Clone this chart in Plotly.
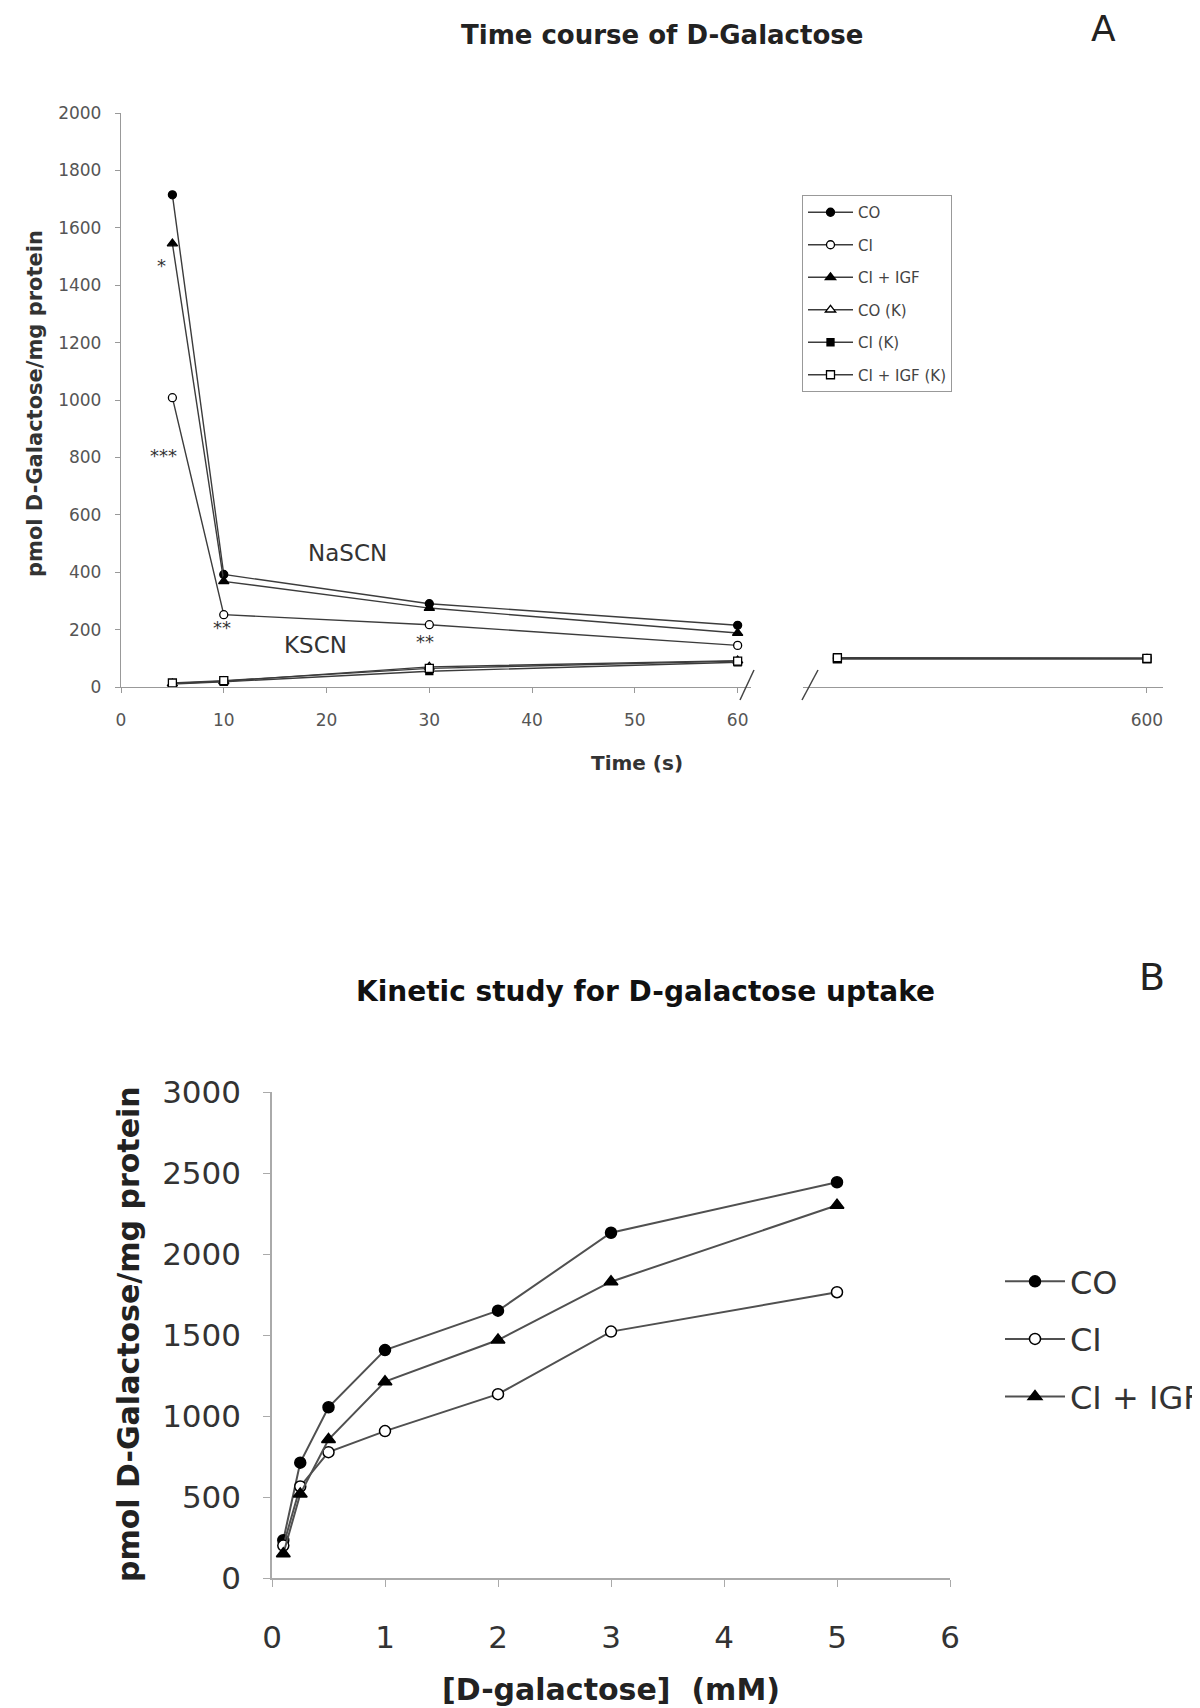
import plotly.graph_objects as go

# ---------------- data ----------------
# Panel A: time course (NaSCN and KSCN)
time_short = [5, 10, 30, 60]
co_na = [1715, 392, 290, 215]
ci_na = [1008, 252, 217, 145]
ciigf_na = [1545, 368, 275, 188]
co_k = [12, 20, 70, 92]
ci_k = [10, 18, 55, 86]
ciigf_k = [14, 22, 65, 90]
time_long = [60, 600]
co_k_long = [100, 100]
ci_k_long = [98, 98]
ciigf_k_long = [102, 100]
ticks_a_y = [0, 200, 400, 600, 800, 1000, 1200, 1400, 1600, 1800, 2000]
ticks_a_x = [0, 10, 20, 30, 40, 50, 60]

# Panel B: kinetic study
conc = [0.1, 0.25, 0.5, 1, 2, 3, 5]
co_b = [233, 712, 1054, 1407, 1650, 2131, 2443]
ci_b = [200, 565, 777, 907, 1135, 1521, 1764]
ciigf_b = [150, 518, 855, 1212, 1469, 1829, 2301]
ticks_b_y = [0, 500, 1000, 1500, 2000, 2500, 3000]
ticks_b_x = [0, 1, 2, 3, 4, 5, 6]

W, H = 1200, 1708
OFF = 8  # page body margin
FONT = "DejaVu Sans"


def px(x):
    return (x - OFF) / W


def py(y):
    return 1 - (y - OFF) / H


LINE_A = "#3c3c3c"
LINE_B = "#505050"


def mk(sym, size, lw):
    # hollow symbols drawn as white-filled markers with black outline
    hollow = sym.endswith("-open")
    base = sym.replace("-open", "")
    return dict(symbol=base, size=size, color="white" if hollow else "black",
                line=dict(color="black", width=lw))


fig = go.Figure()

series_a = [
    ("CO", co_na, "circle", 8),
    ("CI", ci_na, "circle-open", 8),
    ("CI + IGF", ciigf_na, "triangle-up", 9),
    ("CO (K)", co_k, "triangle-up-open", 9),
    ("CI (K)", ci_k, "square", 7),
    ("CI + IGF (K)", ciigf_k, "square-open", 8),
]
for name, vals, sym, sz in series_a:
    fig.add_trace(go.Scatter(
        x=time_short, y=vals, name=name, mode="lines+markers",
        line=dict(color=LINE_A, width=1.4),
        marker=mk(sym, sz, 1.3),
        xaxis="x", yaxis="y", legend="legend", legendgroup="a_" + name,
    ))

for name, vals, sym in [("CO (K)", co_k_long, "circle-open"),
                        ("CI (K)", ci_k_long, "square"),
                        ("CI + IGF (K)", ciigf_k_long, "square-open")]:
    fig.add_trace(go.Scatter(
        x=time_long, y=vals, name=name, mode="lines+markers", showlegend=False,
        line=dict(color=LINE_A, width=1.6),
        marker=mk(sym, 8, 1.3),
        xaxis="x3", yaxis="y3", legend="legend", legendgroup="a_" + name,
    ))

series_b = [
    ("CO", co_b, "circle", 11),
    ("CI", ci_b, "circle-open", 11),
    ("CI + IGF", ciigf_b, "triangle-up", 12),
]
for name, vals, sym, sz in series_b:
    fig.add_trace(go.Scatter(
        x=conc, y=vals, name=name, mode="lines+markers",
        line=dict(color=LINE_B, width=2),
        marker=mk(sym, sz, 1.5),
        xaxis="x2", yaxis="y2", legend="legend2", legendgroup="b_" + name,
    ))

axis_common = dict(showgrid=False, zeroline=False, showline=True, ticks="outside",
                   automargin=False)

fig.update_layout(
    width=W, height=H, autosize=False,
    margin=dict(l=0, r=0, t=0, b=0, autoexpand=False),
    paper_bgcolor="white", plot_bgcolor="white",
    font=dict(family=FONT, color="#333"),
    xaxis=dict(domain=[px(121), px(751)], range=[0, 61.3], tickvals=ticks_a_x,
               linecolor="#999", linewidth=1.3, tickcolor="#999", ticklen=5,
               tickfont=dict(size=17, color="#555"), ticklabelstandoff=12,
               anchor="y", **axis_common),
    yaxis=dict(domain=[py(687), py(113)], range=[0, 2000], tickvals=ticks_a_y,
               linecolor="#999", linewidth=1.3, tickcolor="#999", ticklen=5,
               tickfont=dict(size=17, color="#555"), ticklabelstandoff=10,
               anchor="x", **axis_common),
    xaxis3=dict(domain=[px(803), px(1163)], range=[0, 628], tickvals=[600],
                ticktext=["600"],
                linecolor="#999", linewidth=1.3, tickcolor="#999", ticklen=5,
                tickfont=dict(size=17, color="#555"), ticklabelstandoff=12,
                anchor="y3", **axis_common),
    yaxis3=dict(domain=[py(687), py(113)], range=[0, 2000], visible=False,
                anchor="x3"),
    xaxis2=dict(domain=[px(272), px(950)], range=[0, 6], tickvals=ticks_b_x,
                linecolor="#aaa", linewidth=1.5, tickcolor="#aaa", ticklen=7,
                tickfont=dict(size=31, color="#333"), ticklabelstandoff=24,
                anchor="y2", **axis_common),
    yaxis2=dict(domain=[py(1578), py(1092)], range=[0, 3000], tickvals=ticks_b_y,
                linecolor="#aaa", linewidth=1.5, tickcolor="#aaa", ticklen=7,
                tickfont=dict(size=31, color="#333"), ticklabelstandoff=16,
                anchor="x2", **axis_common),
    legend=dict(x=px(802), y=py(195), xanchor="left", yanchor="top",
                bordercolor="#999", borderwidth=1, bgcolor="white",
                font=dict(size=15, color="#444"), tracegroupgap=10,
                itemwidth=45),
    legend2=dict(x=px(1000), y=py(1254), xanchor="left", yanchor="top",
                 bgcolor="rgba(0,0,0,0)", borderwidth=0,
                 font=dict(size=32, color="#333"), tracegroupgap=13,
                 itemwidth=60),
)

ann = []
# titles and panel letters
ann.append(dict(x=px(662), y=py(35), text="<b>Time course of D-Galactose</b>",
                font=dict(size=26, color="#222")))
ann.append(dict(x=px(1103), y=py(28), text="A", font=dict(size=36, color="#222")))
ann.append(dict(x=px(645), y=py(991), text="<b>Kinetic study for D-galactose uptake</b>",
                font=dict(size=28, color="#111")))
ann.append(dict(x=px(1152), y=py(977), text="B", font=dict(size=38, color="#222")))
# axis titles
ann.append(dict(x=px(35), y=py(404), text="<b>pmol D-Galactose/mg protein</b>",
                textangle=-90, font=dict(size=21, color="#333")))
ann.append(dict(x=px(637), y=py(763), text="<b>Time (s)</b>",
                font=dict(size=20, color="#333")))
ann.append(dict(x=px(128), y=py(1334), text="<b>pmol D-Galactose/mg protein</b>",
                textangle=-90, font=dict(size=30, color="#222")))
ann.append(dict(x=px(611), y=py(1689), text="<b>[D-galactose]  (mM)</b>",
                font=dict(size=30, color="#222")))
for a in ann:
    a.update(xref="paper", yref="paper", showarrow=False,
             xanchor="center", yanchor="middle")

# in-plot labels for panel A (data coordinates)
labels_a = [
    (22, 467, "NaSCN", 23), (18.9, 146, "KSCN", 23),
    (3.9, 1470, "*", 18), (4.1, 808, "***", 18),
    (9.8, 209, "**", 18), (29.6, 157, "**", 18),
]
for x, y, t, s in labels_a:
    ann.append(dict(x=x, y=y, xref="x", yref="y", text=t, showarrow=False,
                    font=dict(size=s, color="#333")))

fig.update_layout(annotations=ann)

# axis break marks
for x0, y0, x1, y1 in [(740, 700, 754, 670), (802, 700, 818, 670)]:
    fig.add_shape(type="line", xref="paper", yref="paper",
                  x0=px(x0), y0=py(y0), x1=px(x1), y1=py(y1),
                  line=dict(color="#444", width=1.5))

fig.write_html("out.html")
